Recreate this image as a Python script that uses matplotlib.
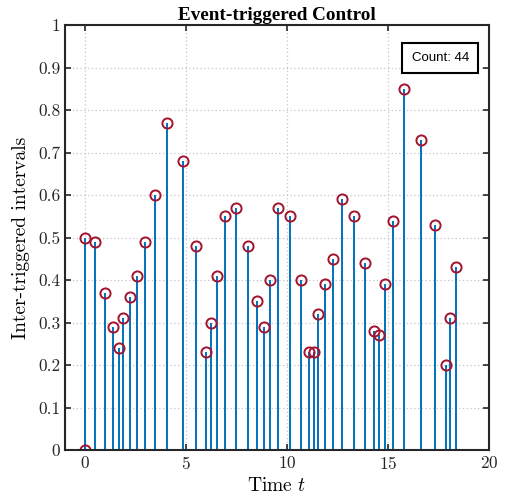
import matplotlib
matplotlib.use("Agg")
import matplotlib.pyplot as plt

# event times (s) and the interval until the next trigger
times = [0, 0, 0.5, 0.99, 1.36, 1.65, 1.89, 2.20, 2.56, 2.97, 3.46, 4.06, 4.83,
         5.51, 5.99, 6.22, 6.52, 6.93, 7.48, 8.05, 8.53, 8.88, 9.17, 9.57, 10.14,
         10.69, 11.09, 11.32, 11.55, 11.87, 12.26, 12.71, 13.30, 13.85, 14.29,
         14.57, 14.84, 15.23, 15.77, 16.62, 17.35, 17.88, 18.08, 18.39]
intervals = [0.0, 0.50, 0.49, 0.37, 0.29, 0.24, 0.31, 0.36, 0.41, 0.49, 0.60,
             0.77, 0.68, 0.48, 0.23, 0.30, 0.41, 0.55, 0.57, 0.48, 0.35, 0.29,
             0.40, 0.57, 0.55, 0.40, 0.23, 0.23, 0.32, 0.39, 0.45, 0.59, 0.55,
             0.44, 0.28, 0.27, 0.39, 0.54, 0.85, 0.73, 0.53, 0.20, 0.31, 0.43]
x_ticks = [0, 5, 10, 15, 20]
y_ticks = [0, 0.1, 0.2, 0.3, 0.4, 0.5, 0.6, 0.7, 0.8, 0.9, 1]
y_ticklabels = ["0", "0.1", "0.2", "0.3", "0.4", "0.5", "0.6", "0.7", "0.8", "0.9", "1"]

plt.rcParams["mathtext.fontset"] = "cm"
plt.rcParams["font.family"] = ["cmr10", "DejaVu Serif"]
plt.rcParams["axes.formatter.use_mathtext"] = True

fig = plt.figure(figsize=(5.13, 5.04), dpi=100)
ax = fig.add_axes([0.1267, 0.107, 0.8265, 0.843])

ml, sl, bl = ax.stem(times, intervals, basefmt="k-")
plt.setp(sl, color="#0072BD", linewidth=1.4)
plt.setp(ml, marker="o", markersize=7.3, markerfacecolor="none",
         markeredgecolor="#A2142F", markeredgewidth=1.4)
plt.setp(bl, color="#262626", linewidth=1.2)

ax.set_xlim(-1, 20)
ax.set_ylim(0, 1)
ax.set_xticks(x_ticks)
ax.set_yticks(y_ticks)
ax.set_yticklabels(y_ticklabels)
ax.tick_params(direction="in", top=True, right=True, length=4, width=1.2,
               labelsize=12.5, colors="#262626")
ax.grid(True, linestyle=(0, (1, 2)), color="#c4c4c4", linewidth=0.9)
ax.set_axisbelow(True)
for s in ax.spines.values():
    s.set_linewidth(1.5)
    s.set_color("#262626")

ax.set_xlabel("Time $t$", fontsize=14, labelpad=4)
ax.set_ylabel("Inter-triggered intervals", fontsize=14, labelpad=6)
ax.set_title("Event-triggered Control", fontsize=13.8, fontweight="bold",
             family="Liberation Serif", pad=4)

ax.text(0.885, 0.923, "Count: 44", transform=ax.transAxes, ha="center",
        va="center", fontsize=9.5, family="Liberation Sans",
        bbox=dict(boxstyle="square,pad=0.7", facecolor="white",
                  edgecolor="black", linewidth=1.5))

fig.savefig("out.png", dpi=100)
